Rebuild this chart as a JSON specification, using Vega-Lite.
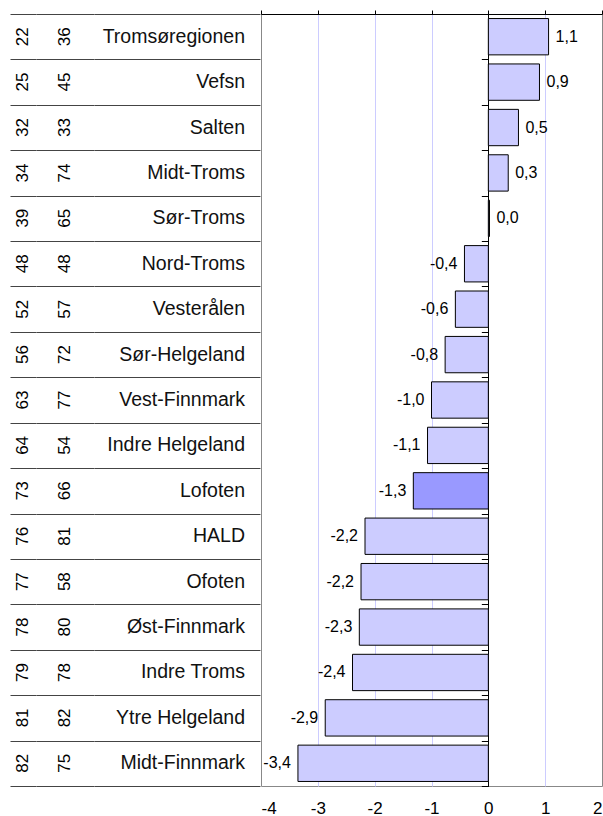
{
  "$schema": "https://vega.github.io/schema/vega-lite/v6.json",
  "padding": {"left": 10, "top": 9, "right": 0, "bottom": 0},
  "background": "white",
  "config": {"font": "Liberation Sans", "view": {"stroke": null}},
  "data": {"values": [
    {"r1": "22", "r2": "36", "region": "Tromsøregionen", "value": 1.06, "label": "1,1"},
    {"r1": "25", "r2": "45", "region": "Vefsn", "value": 0.9, "label": "0,9"},
    {"r1": "32", "r2": "33", "region": "Salten", "value": 0.53, "label": "0,5"},
    {"r1": "34", "r2": "74", "region": "Midt-Troms", "value": 0.35, "label": "0,3"},
    {"r1": "39", "r2": "65", "region": "Sør-Troms", "value": 0.02, "label": "0,0"},
    {"r1": "48", "r2": "48", "region": "Nord-Troms", "value": -0.42, "label": "-0,4"},
    {"r1": "52", "r2": "57", "region": "Vesterålen", "value": -0.58, "label": "-0,6"},
    {"r1": "56", "r2": "72", "region": "Sør-Helgeland", "value": -0.76, "label": "-0,8"},
    {"r1": "63", "r2": "77", "region": "Vest-Finnmark", "value": -1.0, "label": "-1,0"},
    {"r1": "64", "r2": "54", "region": "Indre Helgeland", "value": -1.07, "label": "-1,1"},
    {"r1": "73", "r2": "66", "region": "Lofoten", "value": -1.32, "label": "-1,3"},
    {"r1": "76", "r2": "81", "region": "HALD", "value": -2.17, "label": "-2,2"},
    {"r1": "77", "r2": "58", "region": "Ofoten", "value": -2.24, "label": "-2,2"},
    {"r1": "78", "r2": "80", "region": "Øst-Finnmark", "value": -2.27, "label": "-2,3"},
    {"r1": "79", "r2": "78", "region": "Indre Troms", "value": -2.39, "label": "-2,4"},
    {"r1": "81", "r2": "82", "region": "Ytre Helgeland", "value": -2.87, "label": "-2,9"},
    {"r1": "82", "r2": "75", "region": "Midt-Finnmark", "value": -3.35, "label": "-3,4"}
  ]},
  "spacing": 0,
  "resolve": {"scale": {"y": "independent"}},
  "hconcat": [
    {
      "width": 26, "height": 772,
      "mark": {"type": "text", "angle": 270, "fontSize": 17, "align": "center", "baseline": "middle", "color": "black"},
      "encoding": {
        "y": {"field": "region", "type": "nominal", "sort": null, "scale": {"paddingInner": 0, "paddingOuter": 0},
              "axis": {"labels": false, "ticks": false, "domain": false, "grid": true, "gridColor": "#444444", "gridOpacity": 1, "tickBand": "extent", "title": null}},
        "text": {"field": "r1"}
      }
    },
    {
      "width": 58, "height": 772,
      "mark": {"type": "text", "angle": 270, "fontSize": 17, "align": "center", "baseline": "middle", "color": "black"},
      "encoding": {
        "y": {"field": "region", "type": "nominal", "sort": null, "scale": {"paddingInner": 0, "paddingOuter": 0},
              "axis": {"labels": false, "ticks": false, "domain": false, "grid": true, "gridColor": "#444444", "gridOpacity": 1, "tickBand": "extent", "title": null}},
        "text": {"field": "r2"}
      }
    },
    {
      "width": 166, "height": 772,
      "mark": {"type": "text", "fontSize": 19.5, "align": "right", "baseline": "middle", "dx": -15, "color": "#111111"},
      "encoding": {
        "y": {"field": "region", "type": "nominal", "sort": null, "scale": {"paddingInner": 0, "paddingOuter": 0},
              "axis": {"labels": false, "ticks": false, "domain": false, "grid": true, "gridColor": "#444444", "gridOpacity": 1, "tickBand": "extent", "title": null}},
        "x": {"datum": 1, "type": "quantitative", "scale": {"domain": [0, 1]}, "axis": null},
        "text": {"field": "region"}
      }
    },
    {
      "width": 341, "height": 772,
      "view": {"stroke": "#888888", "strokeWidth": 1},
      "layer": [
        {
          "mark": {"type": "bar", "stroke": "black", "strokeWidth": 1, "height": {"band": 0.8}},
          "encoding": {
            "y": {"field": "region", "type": "nominal", "sort": null, "scale": {"paddingInner": 0, "paddingOuter": 0},
                  "axis": {"orient": "left", "offset": -227.33, "labels": false, "domain": false, "grid": false, "ticks": true, "tickSize": 7, "tickColor": "black", "tickBand": "extent", "title": null}},
            "x": {"field": "value", "type": "quantitative", "scale": {"domain": [-4, 2], "nice": false, "zero": false},
                  "axis": {"orient": "bottom", "values": [-4, -3, -2, -1, 0, 1, 2], "ticks": false, "domain": false, "grid": false, "labelFontSize": 17, "labelColor": "black", "labelPadding": 14, "labelExpr": "datum.value + ''", "title": null}},
            "color": {"condition": {"test": "datum.region === 'Lofoten'", "value": "#9999ff"}, "value": "#ccccff"}
          }
        },
        {
          "transform": [{"filter": "datum.value >= 0"}],
          "mark": {"type": "text", "align": "left", "baseline": "middle", "dx": 7, "fontSize": 16, "color": "black"},
          "encoding": {
            "y": {"field": "region", "type": "nominal", "sort": null},
            "x": {"field": "value", "type": "quantitative",
                  "axis": {"orient": "top", "values": [-4, -3, -2, -1, 0, 1, 2], "labels": false, "ticks": true, "tickSize": 4, "tickColor": "black", "domain": true, "domainColor": "black", "grid": true,
                           "gridColor": {"condition": {"test": "datum.value === 0", "value": "#000000"}, "value": "#ccccff"},
                           "gridOpacity": {"condition": {"test": "datum.value === -4 || datum.value === 2", "value": 0}, "value": 1},
                           "title": null}},
            "text": {"field": "label"}
          }
        },
        {
          "transform": [{"filter": "datum.value < 0"}],
          "mark": {"type": "text", "align": "right", "baseline": "middle", "dx": -7, "fontSize": 16, "color": "black"},
          "encoding": {
            "y": {"field": "region", "type": "nominal", "sort": null},
            "x": {"field": "value", "type": "quantitative", "axis": null},
            "text": {"field": "label"}
          }
        }
      ]
    }
  ]
}
